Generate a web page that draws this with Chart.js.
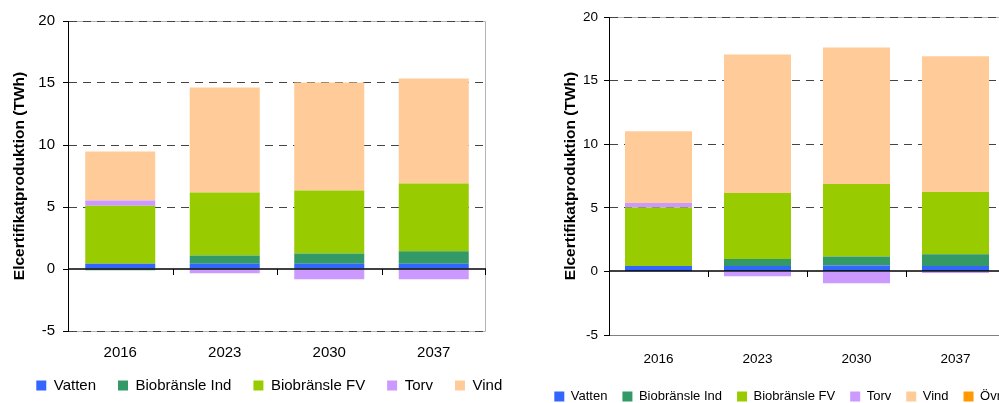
<!DOCTYPE html>
<html>
<head>
<meta charset="utf-8">
<script src="https://cdn.jsdelivr.net/npm/chart.js@4"></script>
<style>
  body { margin: 0; background: #fff; overflow: hidden; width: 999px; height: 403px; position: relative; }
  #left { position: absolute; left: 0; top: 0; }
  #right { position: absolute; left: 510px; top: 0; background: #fff; }
</style>
</head>
<body>
<canvas id="left" width="618" height="403"></canvas>
<canvas id="right" width="549" height="413"></canvas>
<script>
// --- data ---
const years = ['2016', '2023', '2030', '2037'];
const seriesNames = ['Vatten', 'Biobränsle Ind', 'Biobränsle FV', 'Torv', 'Vind', 'Övrigt'];
const seriesColors = ['#3366FF', '#339966', '#99CC00', '#CC99FF', '#FFCC99', '#FF9900'];
const yMin = -5, yMax = 20, yStep = 5;

// vänster diagram
const vattenA = [0.43, 0.43, 0.43, 0.43];
const bioIndA = [-0.1, 0.65, 0.81, 1.0];
const bioFvA  = [4.68, 5.08, 5.09, 5.46];
const torvA   = [0.41, -0.35, -0.83, -0.83];
const vindA   = [3.96, 8.48, 8.72, 8.48];
const ovrA    = [0, 0, 0, 0];

// höger diagram
const vattenB = [0.42, 0.42, 0.47, 0.42];
const bioIndB = [0, 0.55, 0.71, 0.92];
const bioFvB  = [4.61, 5.19, 5.69, 4.90];
const torvB   = [0.34, -0.39, -0.94, -0.13];
const vindB   = [5.64, 10.90, 10.74, 10.67];
const ovrB    = [0, 0, 0, 0];

Chart.defaults.font.family = "'Liberation Sans', Arial, sans-serif";
Chart.defaults.color = '#000';

// ram runt plotytan + nollinje med tickmarks
const framePlugin = {
  id: 'frame',
  afterLayout(chart) {
    // låt årtalen hänga ut under x-axelns ruta (annars klipps de)
    chart.scales.x.bottom = chart.height;
  },
  beforeDraw(chart, args, o) {
    const { ctx, chartArea: a } = chart;
    ctx.save();
    ctx.lineWidth = 1;
    ctx.strokeStyle = '#b4b4b4';
    ctx.beginPath();
    ctx.moveTo(a.left, a.top + 0.5);
    ctx.lineTo(a.right - 0.5, a.top + 0.5);
    ctx.lineTo(a.right - 0.5, a.bottom + 0.5);
    if (o.dashedBottom) ctx.lineTo(a.left, a.bottom + 0.5);
    ctx.stroke();
    if (!o.dashedBottom) {
      ctx.strokeStyle = '#808080';
      ctx.beginPath();
      ctx.moveTo(a.left, a.bottom + 0.5);
      ctx.lineTo(a.right, a.bottom + 0.5);
      ctx.stroke();
    }
    ctx.restore();
  },
  afterDatasetsDraw(chart) {
    const { ctx, chartArea: a, scales: { x, y } } = chart;
    const y0 = Math.round(y.getPixelForValue(0));
    ctx.save();
    ctx.strokeStyle = '#000';
    ctx.lineWidth = 1.5;
    ctx.beginPath();
    ctx.moveTo(a.left, y0);
    ctx.lineTo(a.right, y0);
    ctx.stroke();
    ctx.lineWidth = 1;
    ctx.beginPath();
    for (let i = 1; i <= years.length; i++) {
      const bx = i < years.length
        ? Math.round((x.getPixelForValue(i - 1) + x.getPixelForValue(i)) / 2) + 0.5
        : a.right - 0.5;
      ctx.moveTo(bx, y0);
      ctx.lineTo(bx, y0 + 6);
    }
    ctx.stroke();
    ctx.restore();
  }
};

function buildChart(id, series, g) {
  const datasets = seriesNames.map((name, i) => ({
    label: name,
    data: series[i],
    backgroundColor: seriesColors[i],
    borderWidth: 0,
    barPercentage: g.bar,
    categoryPercentage: 1
  }));
  return new Chart(document.getElementById(id), {
    type: 'bar',
    data: { labels: years, datasets },
    options: {
      responsive: false,
      animation: false,
      devicePixelRatio: 1,
      layout: { padding: { left: 0, top: g.top, right: 0, bottom: 0 } },
      plugins: {
        legend: {
          position: 'bottom',
          labels: { boxWidth: 10, boxHeight: 10, padding: g.legPad, color: '#000', font: { size: g.legSize } }
        },
        tooltip: { enabled: false },
        frame: { dashedBottom: g.dashedBottom }
      },
      scales: {
        x: {
          stacked: true,
          grid: { display: false, drawTicks: false },
          border: { display: false },
          ticks: { color: '#000', font: { size: g.tickSize }, padding: g.xPad },
          afterFit: s => { s.height = g.xH; }
        },
        y: {
          stacked: true,
          min: yMin,
          max: yMax,
          ticks: { stepSize: yStep, color: '#000', font: { size: g.tickSize }, padding: g.yPad },
          grid: {
            color: c => {
              const v = c.tick ? c.tick.value : null;
              if (v === 0) return 'rgba(0,0,0,0)';
              if (v === yMin && !g.dashedBottom) return 'rgba(0,0,0,0)';
              return '#444';
            },
            borderDash: [8, 6],
            tickColor: '#000',
            tickLength: 5,
            tickBorderDash: []
          },
          border: { display: true, color: '#000', width: 1, dash: [8, 6] },
          title: {
            display: true,
            text: 'Elcertifikatproduktion (TWh)',
            color: '#000',
            font: { size: 15.5, weight: 'bold' },
            padding: { top: g.titlePad, bottom: 0 }
          },
          afterFit: s => { s.width = g.yW; }
        },
        // tom axel till höger, bara för att hålla plotytan smalare än legenden
        spacer: {
          type: 'linear',
          position: 'right',
          grid: { display: false, drawTicks: false },
          border: { display: false },
          ticks: { display: false },
          afterFit: s => { s.width = g.spacer; }
        }
      }
    },
    plugins: [framePlugin]
  });
}

buildChart('left', [vattenA, bioIndA, bioFvA, torvA, vindA, ovrA], {
  bar: 0.67, top: 21, spacer: 132, legPad: 22, legSize: 15, tickSize: 15,
  xPad: 13, xH: 25, yPad: 8, yW: 68, titlePad: 10, dashedBottom: true
});

buildChart('right', [vattenB, bioIndB, bioFvB, torvB, vindB, ovrB], {
  bar: 0.677, top: 17, spacer: 54, legPad: 15, legSize: 13, tickSize: 13.5,
  xPad: 16, xH: 40, yPad: 6, yW: 99, titlePad: 51, dashedBottom: false
});
</script>
</body>
</html>
